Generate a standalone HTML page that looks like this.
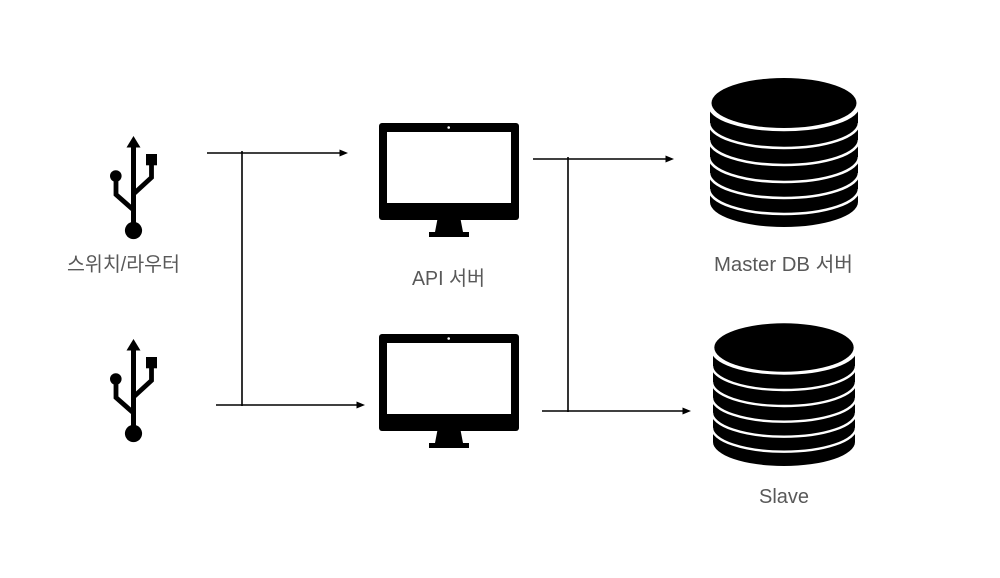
<!DOCTYPE html>
<html lang="ko">
<head>
<meta charset="utf-8">
<style>
html,body{margin:0;padding:0;background:#fff;width:1000px;height:578px;overflow:hidden}
svg{display:block}
text{font-family:"Liberation Sans","Noto Sans CJK KR",sans-serif;font-size:20px;fill:#595959}
</style>
</head>
<body>
<svg width="1000" height="578" viewBox="0 0 1000 578" xmlns="http://www.w3.org/2000/svg">
<defs>
<g id="usb">
<path d="M133.5 136 L140.5 147.5 L126.5 147.5 Z" fill="#000"/>
<path d="M133.5 146 V230" stroke="#000" stroke-width="5" fill="none"/>
<circle cx="133.5" cy="230.5" r="8.6" fill="#000"/>
<rect x="146" y="154" width="11" height="11.3" fill="#000"/>
<path d="M151.5 164 V177.5 L133.5 194" stroke="#000" stroke-width="4.8" fill="none"/>
<circle cx="115.8" cy="176" r="5.8" fill="#000"/>
<path d="M116 178 V194.5 L133.5 210" stroke="#000" stroke-width="4.8" fill="none"/>
</g>
<g id="mon">
<rect x="379" y="123" width="140" height="97" rx="3" fill="#000"/>
<rect x="387" y="132" width="124" height="71" fill="#fff"/>
<circle cx="448.7" cy="127.5" r="1.3" fill="#fff"/>
<path d="M437.5 219 H460.5 L463 232 H469 V237 H429 V232 H435 Z" fill="#000"/>
</g>
</defs>

<use href="#usb"/>
<use href="#usb" y="203"/>
<use href="#mon"/>
<use href="#mon" y="211"/>

<!-- Master DB -->
<path d="M710 109 V202 A74 25 0 0 0 858 202 V109 A75 25 0 0 1 710 109 Z" fill="#000"/>
<g fill="none" stroke="#fff" stroke-width="2.6">
<path d="M709 105 A75 25 0 0 0 859 105"/>
<path d="M709 123 A75 25 0 0 0 859 123"/>
<path d="M709 140 A75 25 0 0 0 859 140"/>
<path d="M709 157 A75 25 0 0 0 859 157"/>
<path d="M709 173 A75 25 0 0 0 859 173"/>
<path d="M709 189 A75 25 0 0 0 859 189"/>
</g>
<ellipse cx="784" cy="103" rx="72.5" ry="25" fill="#000"/>

<!-- Slave DB -->
<path d="M713 353 V442 A71 24 0 0 0 855 442 V353 A72 24 0 0 1 713 353 Z" fill="#000"/>
<g fill="none" stroke="#fff" stroke-width="2.4">
<path d="M712 349.5 A72 24 0 0 0 856 349.5"/>
<path d="M712 366 A72 24 0 0 0 856 366"/>
<path d="M712 382 A72 24 0 0 0 856 382"/>
<path d="M712 397.7 A72 24 0 0 0 856 397.7"/>
<path d="M712 412.7 A72 24 0 0 0 856 412.7"/>
<path d="M712 427.7 A72 24 0 0 0 856 427.7"/>
</g>
<ellipse cx="784" cy="347.5" rx="69.7" ry="24.2" fill="#000"/>

<!-- Connectors -->
<g stroke="#000" stroke-width="1.6" fill="none">
<path d="M207 153 H341"/>
<path d="M242 151 V406"/>
<path d="M216 405 H358"/>
<path d="M533 159 H667"/>
<path d="M568 157 V412"/>
<path d="M542 411 H684"/>
</g>
<g fill="#000">
<path d="M348 153 L339.5 149.5 V156.5 Z"/>
<path d="M365 405 L356.5 401.5 V408.5 Z"/>
<path d="M674 159 L665.5 155.5 V162.5 Z"/>
<path d="M691 411 L682.5 407.5 V414.5 Z"/>
</g>

<!-- Labels -->
<text x="67" y="271" textLength="113" lengthAdjust="spacingAndGlyphs">스위치/라우터</text>
<text x="412" y="285" textLength="73" lengthAdjust="spacingAndGlyphs">API 서버</text>
<text x="714" y="271" textLength="139" lengthAdjust="spacingAndGlyphs">Master DB 서버</text>
<text x="759" y="503" textLength="50" lengthAdjust="spacingAndGlyphs">Slave</text>
</svg>
</body>
</html>
